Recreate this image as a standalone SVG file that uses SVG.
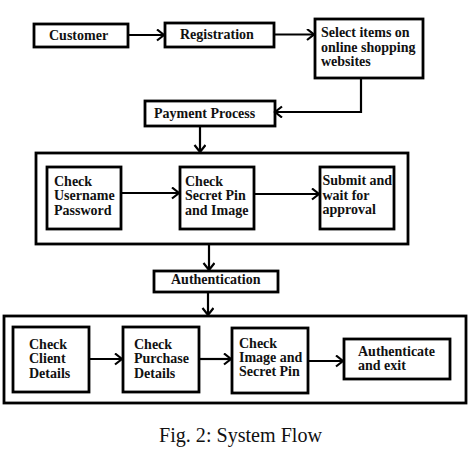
<svg xmlns="http://www.w3.org/2000/svg" width="474" height="466" viewBox="0 0 474 466">
<style>
.box{fill:#fff;stroke:#000;stroke-width:2.8}
.t{font-family:'Liberation Serif','Times New Roman','DejaVu Serif',serif;font-weight:bold;font-size:14px;fill:#111}
.c{fill:none;stroke:#000;stroke-width:2.2}
.cap{font-family:'Liberation Serif','Times New Roman','DejaVu Serif',serif;font-size:20px;fill:#111}
</style>
<defs>
<marker id="a" markerUnits="userSpaceOnUse" markerWidth="12" markerHeight="14" refX="9" refY="6" orient="auto">
<path d="M2,0.5 L9,6 L2,11.5" fill="none" stroke="#000" stroke-width="2.2"/>
</marker>
</defs>
<rect x="0" y="0" width="474" height="466" fill="#fff"/>
<g id="container1"><rect class="box" x="36" y="153" width="372" height="91"/></g>
<g id="container2"><rect class="box" x="4" y="316" width="462" height="87"/></g>
<g id="customer"><rect class="box" x="34" y="24" width="94" height="23"/><text class="t" x="49" y="39.5">Customer</text></g>
<g id="registration"><rect class="box" x="165" y="23" width="109" height="24"/><text class="t" x="180" y="39">Registration</text></g>
<g id="select"><rect class="box" x="315" y="19" width="108" height="59"/><text class="t" x="321" y="37">Select items on</text><text class="t" x="321" y="51.5">online shopping</text><text class="t" x="321" y="66">websites</text></g>
<g id="payment"><rect class="box" x="145" y="101" width="130" height="25"/><text class="t" x="154" y="117.5">Payment Process</text></g>
<g id="checkuser"><rect class="box" x="47" y="167" width="74" height="62"/><text class="t" x="54" y="185.5">Check</text><text class="t" x="54" y="200">Username</text><text class="t" x="54" y="214.5">Password</text></g>
<g id="checkpin"><rect class="box" x="180" y="167" width="74" height="62"/><text class="t" x="185" y="185.5">Check</text><text class="t" x="185" y="200">Secret Pin</text><text class="t" x="185" y="214.5">and Image</text></g>
<g id="submit"><rect class="box" x="320" y="167" width="74" height="62"/><text class="t" x="322.5" y="185">Submit and</text><text class="t" x="322.5" y="199.5">wait for</text><text class="t" x="322.5" y="214">approval</text></g>
<g id="authentication"><rect class="box" x="154" y="271" width="124" height="21"/><text class="t" x="171" y="283.5">Authentication</text></g>
<g id="checkclient"><rect class="box" x="13" y="327" width="76" height="65"/><text class="t" x="29" y="348.5">Check</text><text class="t" x="29" y="363">Client</text><text class="t" x="29" y="377.5">Details</text></g>
<g id="checkpurchase"><rect class="box" x="123" y="327" width="76" height="65"/><text class="t" x="134" y="348.5">Check</text><text class="t" x="134" y="363">Purchase</text><text class="t" x="134" y="377.5">Details</text></g>
<g id="checkimage"><rect class="box" x="232" y="328" width="76" height="65"/><text class="t" x="239" y="347.5">Check</text><text class="t" x="239" y="362">Image and</text><text class="t" x="239" y="376">Secret Pin</text></g>
<g id="authexit"><rect class="box" x="344" y="339" width="106" height="40"/><text class="t" x="358" y="355.5">Authenticate</text><text class="t" x="358" y="370">and exit</text></g>
<g id="connectors">
<path class="c" d="M128,35 L164,35" marker-end="url(#a)"/>
<path class="c" d="M274,34.5 L314,34.5" marker-end="url(#a)"/>
<path class="c" d="M361,78 L361,112 L275,112" marker-end="url(#a)"/>
<path class="c" d="M200,126 L200,152" marker-end="url(#a)"/>
<path class="c" d="M121,193 L179,193" marker-end="url(#a)"/>
<path class="c" d="M254,194 L319,194" marker-end="url(#a)"/>
<path class="c" d="M209,244 L209,270" marker-end="url(#a)"/>
<path class="c" d="M208,292 L208,315" marker-end="url(#a)"/>
<path class="c" d="M89,359 L122,359" marker-end="url(#a)"/>
<path class="c" d="M199,359 L231,359" marker-end="url(#a)"/>
<path class="c" d="M308,361 L343,361" marker-end="url(#a)"/>
</g>
<text class="cap" x="159" y="442" textLength="163" lengthAdjust="spacingAndGlyphs">Fig. 2: System Flow</text>
</svg>
